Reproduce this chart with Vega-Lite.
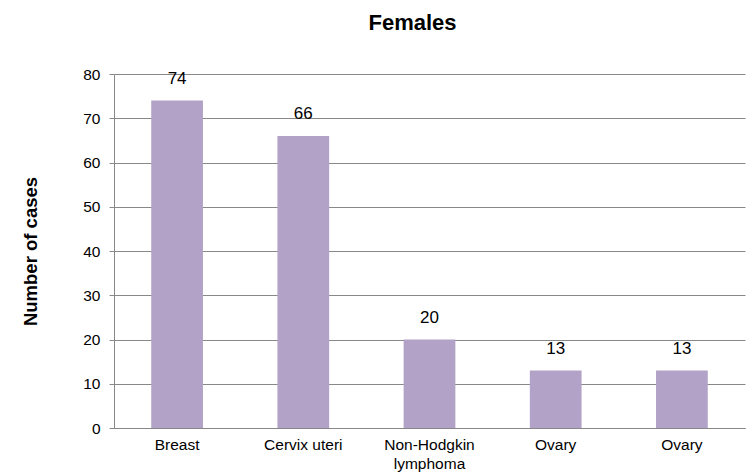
{
  "$schema": "https://vega.github.io/schema/vega-lite/v6.json",
  "autosize": "none",
  "padding": {"left": 114, "top": 74, "right": 2, "bottom": 44},
  "width": 631,
  "height": 354,
  "background": "white",
  "title": {"text": "Females", "fontSize": 22, "fontWeight": "bold", "font": "Liberation Sans", "color": "black", "offset": 32, "anchor": "middle", "dx": -17},
  "data": {"values": [
    {"site": "Breast", "cases": 74},
    {"site": "Cervix uteri", "cases": 66},
    {"site": "Non-Hodgkin lymphoma", "cases": 20},
    {"site": "Ovary", "cases": 13},
    {"site": "Ovary (2)", "cases": 13}
  ]},
  "config": {"view": {"stroke": null}},
  "encoding": {
    "x": {"field": "site", "type": "nominal", "sort": null,
      "scale": {"paddingInner": 0.59, "paddingOuter": 0.295},
      "axis": {"title": null, "labelAngle": 0, "ticks": false, "labelPadding": 9, "labelFont": "Liberation Sans", "labelFontSize": 15.5, "labelColor": "black", "domainColor": "#888888", "labelExpr": "datum.value == 'Non-Hodgkin lymphoma' ? ['Non-Hodgkin', 'lymphoma'] : (datum.value == 'Ovary (2)' ? 'Ovary' : datum.value)", "labelLineHeight": 19}},
    "y": {"field": "cases", "type": "quantitative",
      "scale": {"domain": [0, 80]},
      "axis": {"title": "Number of cases", "titleFont": "Liberation Sans", "titleFontSize": 18.5, "titleFontWeight": "bold", "titleColor": "black", "titlePadding": 42, "values": [0,10,20,30,40,50,60,70,80], "labelFont": "Liberation Sans", "labelFontSize": 15.5, "labelColor": "black", "tickColor": "#888888", "tickSize": 5, "labelPadding": 9, "domainColor": "#888888", "gridColor": "#888888", "grid": true}}
  },
  "layer": [
    {"mark": {"type": "bar", "color": "#b3a2c7"}},
    {"mark": {"type": "text", "dy": -16.5, "baseline": "alphabetic", "fontSize": 17, "font": "Liberation Sans", "color": "black"},
     "encoding": {"text": {"field": "cases", "type": "quantitative"}}}
  ]
}
